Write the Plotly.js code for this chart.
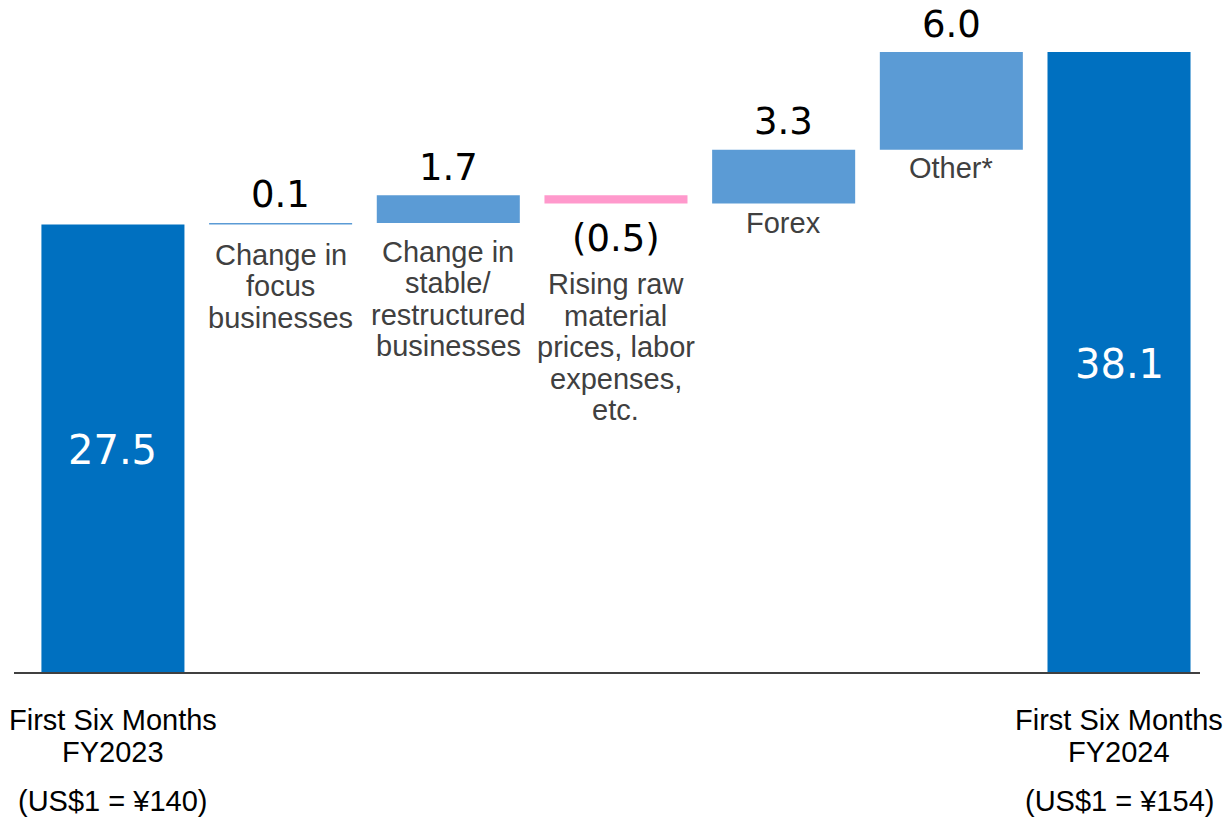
<!DOCTYPE html>
<html>
<head>
<meta charset="utf-8">
<script src="https://cdn.plot.ly/plotly-3.0.1.min.js"></script>
<style>html,body{margin:0;padding:0;background:#fff;}#chart{width:1223px;height:817px;}</style>
</head>
<body>
<div id="chart"></div>
<script>
// ---- data ----
const categories = ["FY2023", "Focus", "Stable", "RawLabor", "Forex", "Other", "FY2024"];
const values = [27.5, 0.1, 1.7, -0.5, 3.3, 6.0, 38.1];
const measures = ["absolute", "relative", "relative", "relative", "relative", "relative", "total"];
const valueLabels = ["27.5", "0.1", "1.7", "(0.5)", "3.3", "6.0", "38.1"];
const stepLabelLines = [
  [],
  ["Change in", "focus", "businesses"],
  ["Change in", "stable/", "restructured", "businesses"],
  ["Rising raw", "material", "prices, labor", "expenses,", "etc."],
  ["Forex"],
  ["Other*"],
  []
];
const periodLabelLines = [
  ["First Six Months", "FY2023"],
  [], [], [], [], [],
  ["First Six Months", "FY2024"]
];
const rateLabels = ["(US$1 = ¥140)", "", "", "", "", "", "(US$1 = ¥154)"];

// ---- styles ----
const C_TOTAL = "#0070C0", C_UP = "#5B9BD5", C_DOWN = "#FF99CC";
const NUM_FONT = "DejaVu Sans, Verdana, sans-serif";
const LBL_FONT = "'Liberation Sans', Arial, sans-serif";
const stepGap = [0, 30, 29, 81, 20, 18, 0];
const LINE_H = 31.5;

// cumulative levels from the data
const starts = [], ends = [];
let run = 0;
values.forEach((v, i) => {
  if (measures[i] === "absolute") { starts.push(0); run = v; ends.push(run); }
  else if (measures[i] === "total") { starts.push(0); ends.push(run); }
  else { starts.push(run); run += v; ends.push(run); }
});

const annotations = [];
categories.forEach((c, i) => {
  const top = Math.max(starts[i], ends[i]);
  const bot = Math.min(starts[i], ends[i]);
  if (measures[i] === "relative") {
    if (values[i] >= 0) {
      annotations.push({x: c, y: top, yanchor: "middle", yshift: 28, text: valueLabels[i], showarrow: false,
        font: {family: NUM_FONT, size: 37, color: "#000"}});
    } else {
      annotations.push({x: c, y: bot, yanchor: "middle", yshift: -35, text: valueLabels[i], showarrow: false,
        font: {family: NUM_FONT, size: 37, color: "#000"}});
    }
    stepLabelLines[i].forEach((ln, k) => {
      annotations.push({x: c, y: bot, yanchor: "middle", yshift: -(stepGap[i] + k * LINE_H), text: ln, showarrow: false,
        font: {family: LBL_FONT, size: 29, color: "#404040"}});
    });
  } else {
    annotations.push({x: c, y: ends[i] / 2, yanchor: "middle", yshift: -2, text: valueLabels[i], showarrow: false,
      font: {family: NUM_FONT, size: 40, color: "#fff"}});
    periodLabelLines[i].forEach((ln, k) => {
      annotations.push({x: c, y: 0, yanchor: "middle", yshift: -(48 + k * 32), text: ln, showarrow: false,
        font: {family: LBL_FONT, size: 29, color: "#000"}});
    });
    annotations.push({x: c, y: 0, yanchor: "middle", yshift: -129, text: rateLabels[i], showarrow: false,
      font: {family: LBL_FONT, size: 29, color: "#000"}});
  }
});

const trace = {
  type: "waterfall",
  x: categories,
  y: values,
  measure: measures,
  textinfo: "none",
  hoverinfo: "none",
  connector: {visible: false},
  increasing: {marker: {color: C_UP, line: {width: 0}}},
  decreasing: {marker: {color: C_DOWN, line: {width: 0}}},
  totals: {marker: {color: C_TOTAL, line: {width: 0}}},
  cliponaxis: false
};

const layout = {
  width: 1223, height: 817,
  margin: {l: 14, r: 23, t: 0, b: 145},
  paper_bgcolor: "#fff", plot_bgcolor: "#fff",
  showlegend: false,
  waterfallgap: 0.147,
  xaxis: {type: "category", range: [-0.59, 6.483], showticklabels: false, ticks: "", showgrid: false,
    zeroline: false, showline: true, linecolor: "#404040", linewidth: 1.5, fixedrange: true},
  yaxis: {range: [0, 41.3], visible: false, showgrid: false, zeroline: false, fixedrange: true},
  annotations: annotations
};

Plotly.newPlot("chart", [trace], layout, {displayModeBar: false, staticPlot: true});
</script>
</body>
</html>
